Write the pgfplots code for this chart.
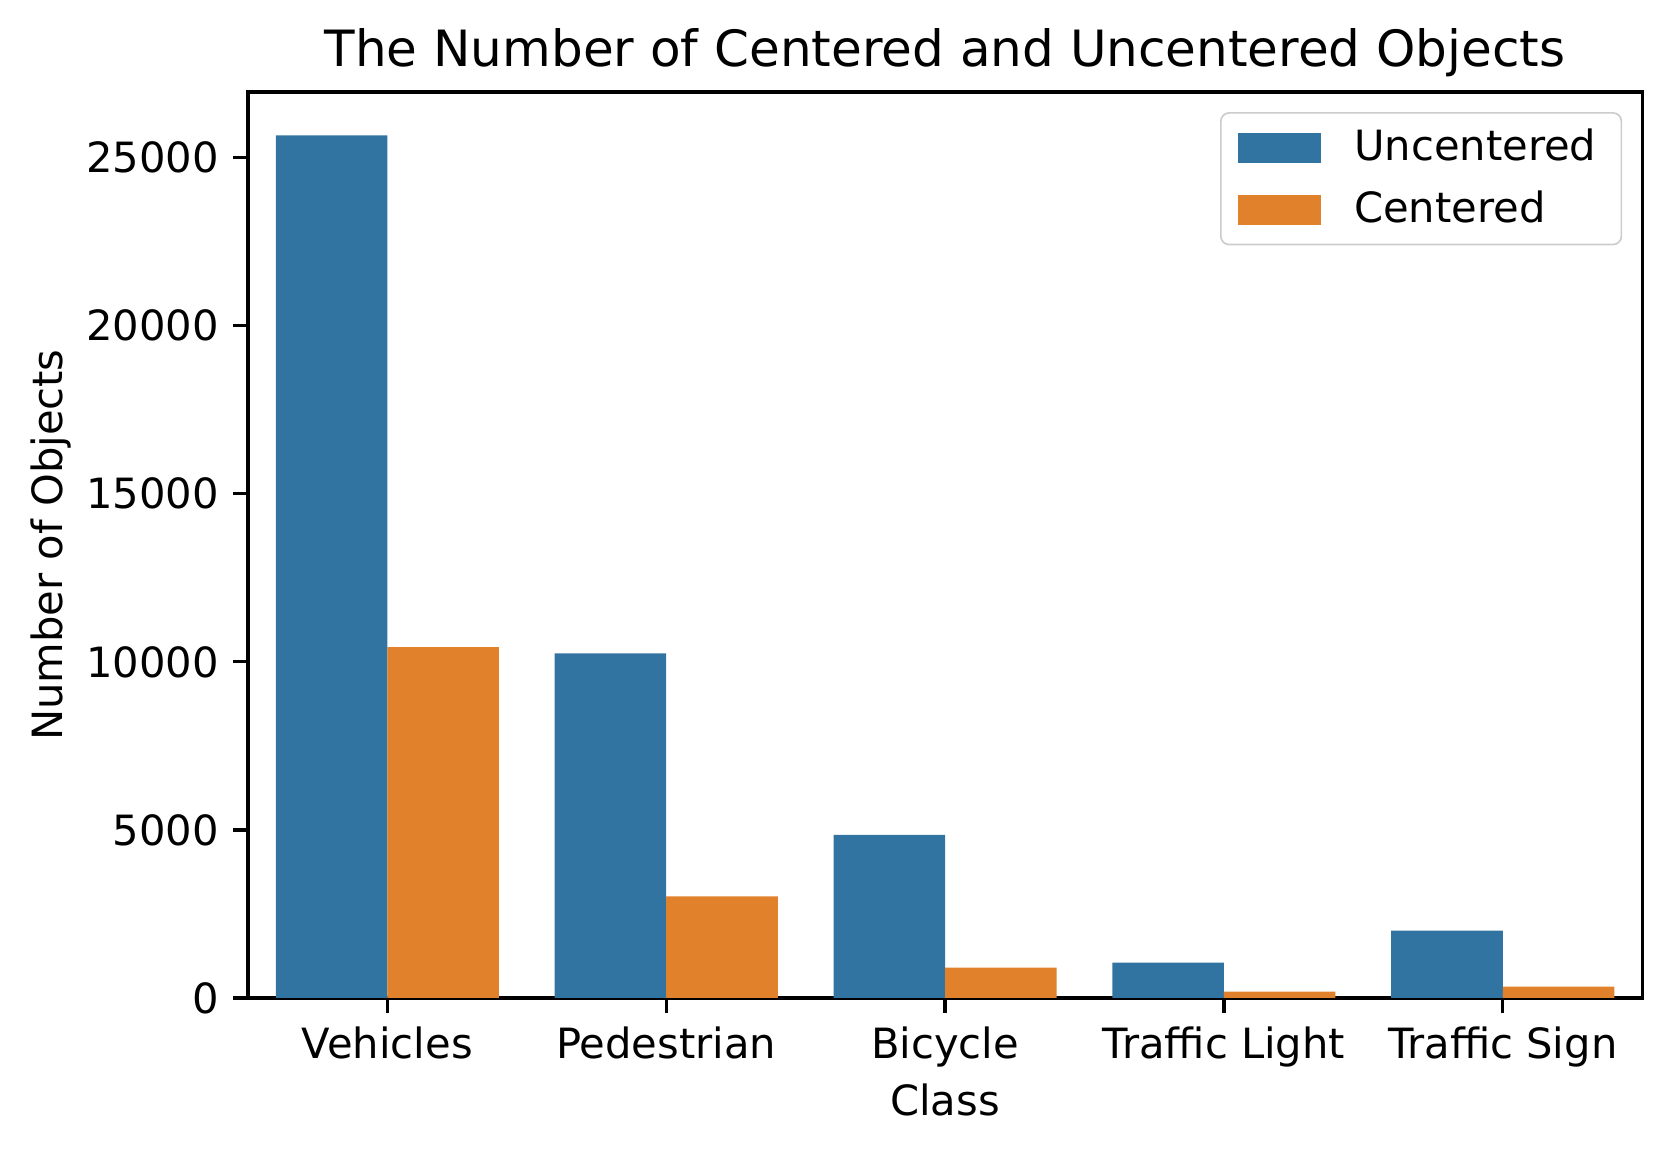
\documentclass[border=0pt]{standalone}
\usepackage{fontspec}
\setmainfont{DejaVu Sans}
\usepackage{pgfplots}
\pgfplotsset{compat=1.18}
\usetikzlibrary{calc}
\definecolor{sbblue}{HTML}{3274A1}
\definecolor{sborange}{HTML}{E1812C}
\begin{document}
\begin{tikzpicture}
\begin{axis}[
  scale only axis,
  width=334.6pt, height=217.4pt,
  xmin=-0.5, xmax=4.5,
  ymin=0, ymax=26950,
  xtick={0,1,2,3,4},
  xticklabels={Vehicles,Pedestrian,Bicycle,Traffic Light,Traffic Sign},
  ytick={0,5000,10000,15000,20000,25000},
  scaled y ticks=false,
  /pgf/number format/set thousands separator={},
  /pgf/number format/assume math mode=true,
  tick align=outside, xtick pos=bottom, ytick pos=left,
  major tick length=3.5pt,
  tick style={black, line width=0.8pt},
  axis line style={line width=0.8pt},
  ticklabel style={font=\fontsize{10}{12}\selectfont},
  xlabel={Class}, ylabel={Number of Objects},
  label style={font=\fontsize{10}{12}\selectfont},
  xlabel style={yshift=3pt},
  ylabel style={yshift=-3.3pt},
  title={The Number of Centered and Uncentered Objects},
  title style={font=\fontsize{12}{14.4}\selectfont, yshift=-5.8pt},
  ybar, bar width=0.4, bar shift=0pt,
  legend style={at={(1,1)}, anchor=north east, xshift=-4.8pt, yshift=-4.8pt,
    draw=black!20, rounded corners=2pt, font=\fontsize{10}{12}\selectfont,
    cells={anchor=west}, row sep=1.8pt, inner xsep=4pt, inner ysep=1.8pt},
  legend image code/.code={
    \fill[#1, sharp corners] (0cm,-0.125cm) rectangle (0.7cm,0.125cm);
    \path (0.914cm,0cm);},
]
\addplot[fill=sbblue, draw=none] coordinates {
  (-0.2,25663) (0.8,10250) (1.8,4854) (2.8,1049) (3.8,2000)
};
\addlegendentry{Uncentered\hspace{-2pt}}
\addplot[fill=sborange, draw=none] coordinates {
  (0.2,10437) (1.2,3026) (2.2,901) (3.2,188) (4.2,336)
};
\addlegendentry{Centered\hspace{-2pt}}
\end{axis}
\path[use as bounding box] ($(current axis.south west)+(-59.5pt,-37.4pt)$) rectangle ($(current axis.north east)+(7.4pt,22.1pt)$);
\end{tikzpicture}
\end{document}
